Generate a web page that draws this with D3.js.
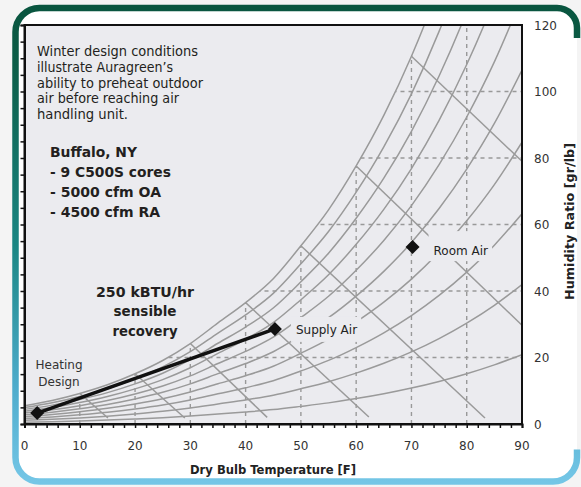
<!DOCTYPE html>
<html>
<head>
<meta charset="utf-8">
<script src="https://cdn.jsdelivr.net/npm/d3@7"></script>
<style>
  body { margin: 0; background: #f4f4f4; }
  svg { display: block; }
</style>
</head>
<body>
<svg id="chart" width="581" height="487"></svg>
<script>
// dry bulb temperature [F] and saturation humidity ratio [gr/lb]
var temps = [0, 5, 10, 15, 20, 25, 30, 35, 40, 45, 50, 55, 60, 65, 70, 75, 80, 85, 90];
var satW = [5.5, 7.1, 9.2, 11.8, 15.1, 19.1, 24.2, 30.4, 36.5, 43.7, 53.6, 64.4, 77.6, 92.8, 110.6, 131.6, 156.1, 184.6, 218.2];

// relative humidity curves [%]
var rhLevels = [10, 20, 30, 40, 50, 60, 70, 80, 90, 100];

// wet bulb lines: start on the saturation curve, end where they stop on the chart
var wbStart = [10, 20, 30, 40, 50, 60, 70];
var wbEndT = [15.1, 29.0, 43.9, 62.3, 83.3, 90, 90];
var wbEndW = [1.8, 1.8, 2.0, 2.1, 1.8, 29.7, 79.0];

var xTicks = [0, 10, 20, 30, 40, 50, 60, 70, 80, 90];
var yTicks = [0, 20, 40, 60, 80, 100, 120];
var gridX = [10, 20, 30, 40, 50, 60, 70, 80];
var gridY = [20, 40, 60, 80, 100];

// state points
var pointNames = ["Heating Design", "Supply Air", "Room Air"];
var pointT = [2.3, 45.3, 70.2];
var pointW = [3.3, 28.6, 53.2];

var descLines = ["Winter design conditions", "illustrate Auragreen\u2019s", "ability to preheat outdoor", "air before reaching air", "handling unit."];
var cityLines = ["Buffalo, NY", "- 9 C500S cores", "- 5000 cfm OA", "- 4500 cfm RA"];
var recoveryLines = ["250 kBTU/hr", "sensible", "recovery"];

var svg = d3.select("#chart");

var x = d3.scaleLinear().domain([0, 90]).range([24.5, 522]);
var y = d3.scaleLinear().domain([0, 120]).range([424, 25]);

var defs = svg.append("defs");

// frame gradient: green on top, light blue at the bottom
var grad = defs.append("linearGradient")
    .attr("id", "frameGrad")
    .attr("gradientUnits", "userSpaceOnUse")
    .attr("x1", 0).attr("y1", 8).attr("x2", 0).attr("y2", 482);
[[0, "#09553f"], [0.12, "#0c5e48"], [0.5, "#1a8683"], [0.8, "#4eaccc"], [1, "#74c6e6"]].forEach(function (s) {
    grad.append("stop").attr("offset", s[0]).attr("stop-color", s[1]);
});

defs.append("clipPath").attr("id", "plotClip")
    .append("rect")
    .attr("x", x(0)).attr("y", y(120))
    .attr("width", x(90) - x(0)).attr("height", y(0) - y(120));

// area under the saturation curve (grid only shows there)
var satArea = d3.area()
    .x(function (d, i) { return x(temps[i]); })
    .y0(y(0))
    .y1(function (d) { return y(d); })
    .curve(d3.curveMonotoneX);

defs.append("clipPath").attr("id", "satClip")
    .append("path")
    .attr("d", satArea(satW));

// frame
var L = 15.5, T = 8, R = 577, B = 481.5, r = 24, r2 = 20;

svg.append("rect")
    .attr("x", L).attr("y", T)
    .attr("width", R - L).attr("height", B - T)
    .attr("rx", r)
    .attr("fill", "#ffffff");

var framePath = "M" + R + "," + (T + r2 + 10) +
    " L" + R + "," + (T + r2) +
    " A" + r2 + "," + r2 + " 0 0 0 " + (R - r2) + "," + T +
    " L" + (L + r) + "," + T +
    " A" + r + "," + r + " 0 0 0 " + L + "," + (T + r) +
    " L" + L + "," + (B - r) +
    " A" + r + "," + r + " 0 0 0 " + (L + r) + "," + B +
    " L" + (R - r) + "," + B +
    " A" + r + "," + r + " 0 0 0 " + R + "," + (B - r) +
    " L" + R + "," + (B - r - 8);

svg.append("path")
    .attr("d", framePath)
    .attr("fill", "none")
    .attr("stroke", "url(#frameGrad)")
    .attr("stroke-width", 6.5);

// plot background
var plotBg = "#ebebef";
svg.append("rect")
    .attr("x", x(0)).attr("y", y(120))
    .attr("width", x(90) - x(0)).attr("height", y(0) - y(120))
    .attr("fill", plotBg);

var plot = svg.append("g").attr("clip-path", "url(#plotClip)");

// dashed grid, clipped below saturation
var grid = plot.append("g").attr("clip-path", "url(#satClip)")
    .attr("stroke", "#999")
    .attr("stroke-width", 1.4)
    .attr("stroke-dasharray", "4,4");

grid.selectAll("line.gx").data(gridX).enter().append("line")
    .attr("class", "gx")
    .attr("x1", function (d) { return x(d); })
    .attr("x2", function (d) { return x(d); })
    .attr("y1", y(0)).attr("y2", y(120));

grid.selectAll("line.gy").data(gridY).enter().append("line")
    .attr("class", "gy")
    .attr("x1", x(0)).attr("x2", x(90))
    .attr("y1", function (d) { return y(d); })
    .attr("y2", function (d) { return y(d); });

// relative humidity curves from the saturation table
function rhCurve(rh) {
    var phi = rh / 100;
    return temps.map(function (t, i) {
        var ws = satW[i] / 7000;
        var pr = ws / (0.622 + ws);
        return [t, 0.622 * phi * pr / (1 - phi * pr) * 7000];
    });
}

var line = d3.line()
    .x(function (d) { return x(d[0]); })
    .y(function (d) { return y(d[1]); })
    .curve(d3.curveMonotoneX);

plot.append("g").selectAll("path").data(rhLevels).enter().append("path")
    .attr("d", function (d) { return line(rhCurve(d)); })
    .attr("fill", "none")
    .attr("stroke", "#9a9a9a")
    .attr("stroke-width", 1.5);

// wet bulb lines
plot.append("g").selectAll("line").data(wbStart).enter().append("line")
    .attr("x1", function (d) { return x(d); })
    .attr("y1", function (d) { return y(satW[temps.indexOf(d)]); })
    .attr("x2", function (d, i) { return x(wbEndT[i]); })
    .attr("y2", function (d, i) { return y(wbEndW[i]); })
    .attr("stroke", "#9a9a9a")
    .attr("stroke-width", 1.5);

// labels for supply / room air, with a box hiding the lines behind them
var labelPad = { "Supply Air": [5, 4, 9, 5], "Room Air": [5, 4, 16, 3] };
[1, 2].forEach(function (i) {
    var g = svg.append("g");
    var box = g.append("rect").attr("fill", plotBg);
    var txt = g.append("text")
        .attr("x", x(pointT[i]) + 21)
        .attr("y", y(pointW[i]) + (i === 1 ? 5 : 8))
        .attr("font-family", "DejaVu Sans, Verdana, sans-serif")
        .attr("font-size", 12)
        .attr("fill", "#222")
        .text(pointNames[i]);
    var bb = txt.node().getBBox();
    var p = labelPad[pointNames[i]];
    box.attr("x", bb.x - p[0]).attr("y", bb.y - p[2] + 3)
        .attr("width", bb.width + p[0] + p[1])
        .attr("height", bb.height + p[2] + p[3] - 3);
});

// process line heating -> supply
svg.append("line")
    .attr("x1", x(pointT[0])).attr("y1", y(pointW[0]))
    .attr("x2", x(pointT[1])).attr("y2", y(pointW[1]))
    .attr("stroke", "#111")
    .attr("stroke-width", 3.5);

svg.append("g").selectAll("path").data(pointT).enter().append("path")
    .attr("d", function (d, i) {
        var cx = x(d), cy = y(pointW[i]), s = 7;
        return "M" + cx + "," + (cy - s) + "L" + (cx + s) + "," + cy + "L" + cx + "," + (cy + s) + "L" + (cx - s) + "," + cy + "Z";
    })
    .attr("fill", "#111");

// plot border
svg.append("rect")
    .attr("x", x(0)).attr("y", y(120))
    .attr("width", x(90) - x(0)).attr("height", y(0) - y(120))
    .attr("fill", "none")
    .attr("stroke", "#111")
    .attr("stroke-width", 2);

// bottom axis
var xAxis = d3.axisBottom(x)
    .tickValues(d3.range(0, 91, 2))
    .tickSize(4)
    .tickFormat("");
var gx = svg.append("g").attr("transform", "translate(0," + y(0) + ")").call(xAxis);
gx.select(".domain").attr("stroke", "#111").attr("stroke-width", 2);
gx.selectAll(".tick line").attr("stroke", "#111").attr("stroke-width", 1.5);

svg.append("g").selectAll("text").data(xTicks).enter().append("text")
    .attr("x", function (d) { return x(d); })
    .attr("y", 450)
    .attr("text-anchor", "middle")
    .attr("font-family", "DejaVu Sans, Verdana, sans-serif")
    .attr("font-size", 12)
    .attr("fill", "#333")
    .text(function (d) { return d; });

// left axis: ticks only
var yAxis = d3.axisLeft(y)
    .tickValues(d3.range(0, 121, 5))
    .tickSize(4)
    .tickFormat("");
var gy = svg.append("g").attr("transform", "translate(" + x(0) + ",0)").call(yAxis);
gy.select(".domain").attr("stroke", "#111").attr("stroke-width", 2);
gy.selectAll(".tick line").attr("stroke", "#111").attr("stroke-width", 1.5);

// right axis labels
svg.append("g").selectAll("text").data(yTicks).enter().append("text")
    .attr("x", 534)
    .attr("y", function (d) { return y(d) + 4.5; })
    .attr("font-family", "DejaVu Sans, Verdana, sans-serif")
    .attr("font-size", 12)
    .attr("fill", "#333")
    .text(function (d) { return d; });

// axis titles
svg.append("text")
    .attr("x", 273).attr("y", 474)
    .attr("text-anchor", "middle")
    .attr("font-family", "DejaVu Sans, Verdana, sans-serif")
    .attr("font-weight", "bold")
    .attr("font-size", 13)
    .attr("textLength", 166)
    .attr("lengthAdjust", "spacingAndGlyphs")
    .attr("fill", "#222")
    .text("Dry Bulb Temperature [F]");

svg.append("text")
    .attr("transform", "translate(574,221.5) rotate(-90)")
    .attr("text-anchor", "middle")
    .attr("font-family", "DejaVu Sans, Verdana, sans-serif")
    .attr("font-weight", "bold")
    .attr("font-size", 13)
    .attr("textLength", 157)
    .attr("lengthAdjust", "spacingAndGlyphs")
    .attr("fill", "#222")
    .text("Humidity Ratio [gr/lb]");

// description text (condensed)
var descW = [161, 136, 166, 142, 91];
svg.append("g").selectAll("text").data(descLines).enter().append("text")
    .attr("x", 37)
    .attr("y", function (d, i) { return 56 + i * 15.8; })
    .attr("font-family", "Liberation Sans Narrow, DejaVu Sans Condensed, sans-serif")
    .attr("font-size", 14)
    .attr("textLength", function (d, i) { return descW[i]; })
    .attr("lengthAdjust", "spacingAndGlyphs")
    .attr("fill", "#231f20")
    .text(function (d) { return d; });

var cityW = [87, 121, 111, 110];
svg.append("g").selectAll("text").data(cityLines).enter().append("text")
    .attr("x", 50)
    .attr("y", function (d, i) { return 156.7 + i * 20; })
    .attr("font-family", "DejaVu Sans, Verdana, sans-serif")
    .attr("font-weight", "bold")
    .attr("font-size", 14)
    .attr("textLength", function (d, i) { return cityW[i]; })
    .attr("lengthAdjust", "spacingAndGlyphs")
    .attr("fill", "#231f20")
    .text(function (d) { return d; });

var recW = [98, 63, 65];
svg.append("g").selectAll("text").data(recoveryLines).enter().append("text")
    .attr("x", 145)
    .attr("y", function (d, i) { return 296.7 + i * 19.4; })
    .attr("text-anchor", "middle")
    .attr("font-family", "DejaVu Sans, Verdana, sans-serif")
    .attr("font-weight", "bold")
    .attr("font-size", 14)
    .attr("textLength", function (d, i) { return recW[i]; })
    .attr("lengthAdjust", "spacingAndGlyphs")
    .attr("fill", "#231f20")
    .text(function (d) { return d; });

// heating design label
svg.append("g").selectAll("text").data(pointNames[0].split(" ")).enter().append("text")
    .attr("x", 59)
    .attr("y", function (d, i) { return 368.5 + i * 17.5; })
    .attr("text-anchor", "middle")
    .attr("font-family", "DejaVu Sans, Verdana, sans-serif")
    .attr("font-size", 12)
    .attr("fill", "#333")
    .text(function (d) { return d; });
</script>
</body>
</html>
